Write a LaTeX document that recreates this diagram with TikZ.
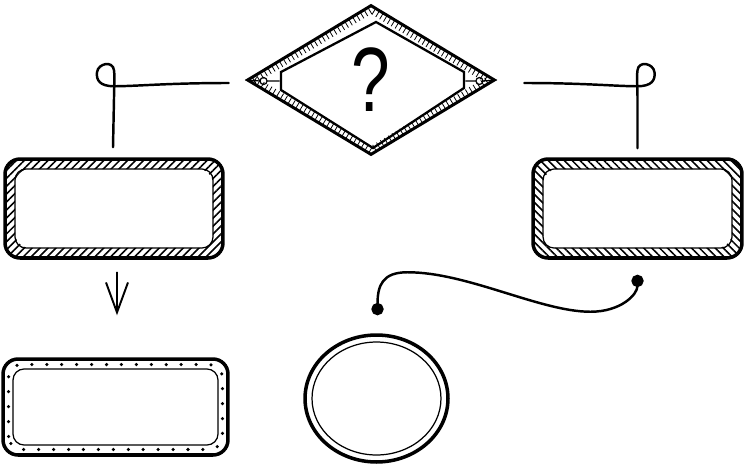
\documentclass[tikz,border=0pt]{standalone}
\usepackage{fontspec}
\usepackage{graphicx}
\newfontfamily\qfont{Liberation Sans}
\usetikzlibrary{
  shapes.geometric, arrows.meta, calc,
  patterns.meta, decorations.pathreplacing
}
\tikzstyle{decision} = [
  diamond, draw, line width=1.7pt, minimum width=4.96cm, minimum height=3cm,
  inner sep=0pt, font={\qfont\fontsize{52}{52}\selectfont}
]
\tikzset{hatchbox/.style={
  rectangle, draw, line width=2pt, rounded corners=0.3cm,
  minimum height=1.98cm, inner sep=0pt,
  path picture={
    \fill[pattern={Lines[angle=#1,distance=3.2pt,line width=0.9pt]}, even odd rule, rounded corners=0.3cm]
      (path picture bounding box.south west) rectangle (path picture bounding box.north east)
      ([shift={(0.2cm,0.2cm)}]path picture bounding box.south west) rectangle ([shift={(-0.2cm,-0.2cm)}]path picture bounding box.north east);
    \draw[line width=0.7pt, rounded corners=0.22cm]
      ([shift={(0.2cm,0.2cm)}]path picture bounding box.south west) rectangle ([shift={(-0.2cm,-0.2cm)}]path picture bounding box.north east);
  }
}}
\tikzstyle{dotbox} = [
  rectangle, draw, line width=2pt, rounded corners=0.3cm,
  minimum width=4.5cm, minimum height=1.92cm, inner sep=0pt,
  path picture={
    \draw[line width=0.7pt, rounded corners=0.22cm]
      ([shift={(0.2cm,0.2cm)}]path picture bounding box.south west) rectangle ([shift={(-0.2cm,-0.2cm)}]path picture bounding box.north east);
    \draw[line width=2pt, line cap=round, dash pattern=on 0pt off 8.5pt, rounded corners=0.26cm]
      ([shift={(0.11cm,0.11cm)}]path picture bounding box.south west) rectangle ([shift={(-0.11cm,-0.11cm)}]path picture bounding box.north east);
  }
]
\tikzstyle{ring} = [
  ellipse, draw, line width=2pt, minimum width=2.86cm, minimum height=2.54cm, inner sep=0pt,
  path picture={
    \draw[line width=0.7pt] (path picture bounding box.center) ellipse [x radius=1.29cm, y radius=1.13cm];
  }
]
\tikzstyle{loopline} = [line width=1.4pt, line cap=round]
\tikzstyle{arrow} = [-{Straight Barb[length=6mm,width=4.4mm]}, line width=1.1pt]
\tikzstyle{dotline} = [{Circle[length=7pt]}-{Circle[length=7pt]}, line width=1.4pt]

\begin{document}
\begin{tikzpicture}[x=0.02cm, y=-0.02cm]
  \useasboundingbox (0,0) rectangle (750,463);

  % Shapes
  \node[decision] (q) at (371,80) {\scalebox{0.76}[1]{?}};
  \node[hatchbox=45, minimum width=4.36cm] (lbox) at (114,208.5) {};
  \node[hatchbox=-45, minimum width=4.18cm] (rbox) at (637.5,208.5) {};
  \node[dotbox] (dbox) at (115.5,407) {};
  \node[ring] (circ) at (376.5,398.5) {};

  % Diamond trim
  \draw[line width=1.3pt] ($(q.center)+(-90,-8)$) -- ($(q.center)+(5,-58)$) -- ($(q.center)+(93,-8)$)
    -- ($(q.center)+(93,8)$) -- ($(q.center)+(2,68)$) -- ($(q.center)+(-90,10)$) -- cycle;
  \draw[line width=0.45pt, decorate, decoration={ticks, segment length=0.09cm, amplitude=0.07cm}]
    ($(q.center)+(-117,0)$) -- ($(q.center)+(0,-70)$) -- ($(q.center)+(117,0)$) -- ($(q.center)+(0,70)$) -- cycle;
  \draw[line width=0.7pt] (q.west) -- ++(14.5,1) ($(q.west)+(18,1)$) circle[radius=0.07cm]
    ($(q.west)+(21.5,1)$) -- ++(12.5,0);
  \draw[line width=0.7pt] (q.east) -- ++(-13.5,1) ($(q.east)+(-17,1)$) circle[radius=0.07cm]
    ($(q.east)+(-20.5,1)$) -- ++(-10.5,0);

  % Loop connectors
  \coordinate (lfrom) at ($(q.west)+(-17,3)$);
  \coordinate (lknot) at ($(lbox.north)+(0,-71)$);
  \coordinate (lto) at ($(lbox.north)+(-1,-10)$);
  \draw[loopline] (lfrom) .. controls +(-60,0) and +(22,0) .. (lknot)
    .. controls +(-14,0) and +(-1,8) .. ($(lknot)+(-17,-14)$)
    .. controls +(1,-9) and +(-1,-10) .. ($(lknot)+(0,-16)$)
    .. controls +(1,8) and +(0,-10) .. ($(lknot)+(0,12)$) -- (lto);

  \coordinate (rfrom) at ($(q.east)+(28,3)$);
  \coordinate (rknot) at ($(rbox.north)+(0,-71)$);
  \coordinate (rto) at ($(rbox.north)+(0,-9)$);
  \draw[loopline] (rfrom) .. controls +(60,0) and +(-22,0) .. (rknot)
    .. controls +(14,0) and +(1,8) .. ($(rknot)+(17,-14)$)
    .. controls +(-1,-9) and +(1,-10) .. ($(rknot)+(0,-16)$)
    .. controls +(-1,8) and +(0,-10) .. ($(rknot)+(0,12)$) -- (rto);

  % Arrow and wave
  \draw[arrow] ($(lbox.south)+(3,12)$) -- ($(dbox.north)+(1.5,-42)$);
  \coordinate (wfrom) at ($(circ.north)+(1,-18)$);
  \coordinate (wto) at ($(rbox.south)+(0,15)$);
  \draw[dotline] (wfrom) .. controls +(0,-30) and +(-25,0) .. ($(wfrom)+(30,-43)$)
    .. controls +(60,0) and +(-50,0) .. ($(wto)+(-47,37)$)
    .. controls +(30,0) and +(0,20) .. (wto);

\end{tikzpicture}
\end{document}
